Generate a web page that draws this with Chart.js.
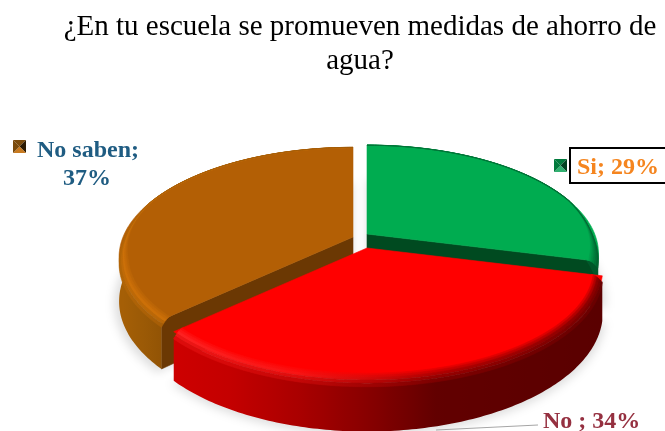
<!DOCTYPE html>
<html lang="es">
<head>
<meta charset="utf-8">
<title>Ahorro de agua</title>
<script src="https://cdn.jsdelivr.net/npm/chart.js@4"></script>
<style>
  html, body { margin: 0; padding: 0; background: #fff; overflow: hidden; }
  canvas { display: block; }
</style>
</head>
<body>
<canvas id="pieChart" width="665" height="431"></canvas>
<script>
// Chart data
const categories = ['Si', 'No ', 'No saben'];
const percentages = [29, 34, 37];
const titleLines = ['¿En tu escuela se promueven medidas de ahorro de', 'agua?'];

// Slice look: flat top, radial wall, then rim and side ramps along the horizontal
const topColors = ['#00ac50', '#ff0000', '#b35f05'];
const wallColors = ['#004a20', '#5a0000', '#6b3803'];
const rimRamps = [
    [[-1, '#009a48'], [0.6, '#009a48'], [1, '#007f3c']],
    [[-1, '#ff2626'], [-0.3, '#f81414'], [0.3, '#b00000'], [1, '#8a0000']],
    [[-1, '#cc7008'], [-0.6, '#cc7008'], [1, '#b35f05']]
];
const sideRamps = [
    [[-1, '#00582a'], [1, '#00582a']],
    [[-1, '#d40000'], [-0.6, '#c40000'], [-0.3, '#aa0000'], [0, '#880000'], [0.3, '#620000'], [1, '#5a0000']],
    [[-1, '#a55f06'], [-0.8, '#8e5205'], [1, '#8a5005']]
];

// Exploded slice centres, slice radius factors and the shared perspective of the disc
const centres = [[367, 234], [367, 248], [353, 237]];
const radii = [0.99, 1.008, 1];
const RADIUS = 230;
const FLATTEN = 106;
const PERSPECTIVE = 0.182;
const DEPTH = 43;
const STEPS = 140;

function project(centre, angle, r, z) {
    // Chart.js measures from 3 o'clock, so cos gives across and sin gives towards the viewer
    const u = r * Math.cos(angle);
    const v = r * Math.sin(angle);
    const s = 1 / (1 - PERSPECTIVE * v);
    return [centre[0] + RADIUS * u * s, centre[1] + FLATTEN * v * s + DEPTH * z * s];
}

function hexToRgb(hex) {
    return [1, 3, 5].map(i => parseInt(hex.slice(i, i + 2), 16));
}

function mix(a, b, t) {
    const ca = hexToRgb(a), cb = hexToRgb(b);
    const c = ca.map((v, i) => Math.round(v + (cb[i] - v) * t));
    return '#' + c.map(v => v.toString(16).padStart(2, '0')).join('');
}

function rampColor(ramp, u) {
    for (let i = 1; i < ramp.length; i++) {
        if (u <= ramp[i][0]) {
            const t = (u - ramp[i - 1][0]) / (ramp[i][0] - ramp[i - 1][0]);
            return mix(ramp[i - 1][1], ramp[i][1], Math.max(0, t));
        }
    }
    return ramp[ramp.length - 1][1];
}

// Horizontal gradient across the disc, sampled from a colour function of u in -1..1
function sweep(ctx, centre, colorAt) {
    const g = ctx.createLinearGradient(centre[0] - RADIUS, 0, centre[0] + RADIUS, 0);
    for (let i = 0; i <= 40; i++) {
        g.addColorStop(i / 40, colorAt(i / 20 - 1));
    }
    return g;
}

function fillPoly(ctx, pts, color, seam) {
    ctx.beginPath();
    pts.forEach((p, i) => (i ? ctx.lineTo(p[0], p[1]) : ctx.moveTo(p[0], p[1])));
    ctx.closePath();
    ctx.fillStyle = color;
    ctx.fill();
    if (seam) {
        ctx.strokeStyle = color;
        ctx.lineWidth = 0.6;
        ctx.stroke();
    }
}

function sector(centre, start, end, r, z) {
    const pts = [project(centre, start, 0, z)];
    for (let i = 0; i <= STEPS; i++) {
        pts.push(project(centre, start + (end - start) * i / STEPS, r, z));
    }
    return pts;
}

// Strip along the outer edge between two rings given as functions of the angle
function edgeStrip(centre, start, end, ringA, ringB) {
    const outer = [], inner = [];
    for (let i = 0; i <= STEPS; i++) {
        const a = start + (end - start) * i / STEPS;
        const pa = ringA(a), pb = ringB(a);
        outer.push(project(centre, a, pa[0], pa[1]));
        inner.unshift(project(centre, a, pb[0], pb[1]));
    }
    return outer.concat(inner);
}

const clamp = (v, lo, hi) => Math.min(hi, Math.max(lo, v));

function drawWall(ctx, centre, angle, R, color) {
    fillPoly(ctx, [project(centre, angle, 0, 0), project(centre, angle, R, 0),
        project(centre, angle, R, 1), project(centre, angle, 0, 1)], color, true);
}

function drawSlice(ctx, arc, index) {
    const centre = centres[index];
    const R = radii[index];
    const { startAngle: start, endAngle: end } = arc;
    const top = topColors[index], rim = rimRamps[index], side = sideRamps[index];

    // only the radial walls turned towards the viewer
    if (Math.cos(start) < -1e-6) drawWall(ctx, centre, start, R, wallColors[index]);
    if (Math.cos(end) > 1e-6) drawWall(ctx, centre, end, R, wallColors[index]);

    fillPoly(ctx, edgeStrip(centre, start, end, () => [R, 0.1], () => [R, 1]),
        sweep(ctx, centre, u => rampColor(side, u)), false);

    fillPoly(ctx, sector(centre, start, end, R, 0), top, true);

    // rounded bevel over into the side, wide at the front and nearly gone at the back
    const bevelR = a => clamp(0.03 + 0.07 * Math.sin(a), 0.006, 0.045);
    const bevelZ = a => 0.15 * clamp(1 + 3 * Math.sin(a), 0, 1);
    const rings = 6;
    for (let k = 0; k < rings; k++) {
        const t0 = k / rings, t1 = (k + 1) / rings;
        const ring = t => a => [R - bevelR(a) * (1 - t), bevelZ(a) * t * t];
        const color = sweep(ctx, centre, u => {
            const c = rampColor(rim, u);
            return t0 < 0.5 ? mix(top, c, t0 * 2) : mix(c, rampColor(side, u), (t0 - 0.5) * 2);
        });
        fillPoly(ctx, edgeStrip(centre, start, end, ring(t0), ring(t1)), color, true);
    }
}

function drawMarker(ctx, x, y, size, light, mid, dark) {
    const c = [x + size / 2, y + size / 2];
    const corners = [[x, y], [x + size, y], [x + size, y + size], [x, y + size]];
    [mid, dark, light, mid].forEach((color, i) => {
        fillPoly(ctx, [corners[i], corners[(i + 1) % 4], c], color, false);
    });
}

function drawLabels(ctx) {
    ctx.save();
    ctx.textBaseline = 'alphabetic';
    ctx.font = 'bold 24px "Liberation Serif", serif';

    // No saben, two lines beside the brown slice
    ctx.fillStyle = '#1f5c82';
    ctx.textAlign = 'center';
    ctx.fillText(categories[2] + ';', 88, 157);
    ctx.fillText(percentages[2] + '%', 87, 185);
    drawMarker(ctx, 13, 140, 13, '#c87a20', '#7a4a0c', '#2c1a02');

    // Si sits in an outlined box running off the right side
    ctx.fillStyle = '#fff';
    ctx.fillRect(570, 148, 110, 35);
    ctx.strokeStyle = '#000';
    ctx.lineWidth = 2;
    ctx.strokeRect(570, 148, 110, 35);
    ctx.fillStyle = '#f5851f';
    ctx.textAlign = 'left';
    ctx.fillText(categories[0] + '; ' + percentages[0] + '%', 577, 174);
    drawMarker(ctx, 554, 159, 13, '#30b070', '#007a3c', '#004020');

    // No, with a leader line back to the slice
    ctx.strokeStyle = '#a6a6a6';
    ctx.lineWidth = 1.2;
    ctx.beginPath();
    ctx.moveTo(436, 430);
    ctx.lineTo(538, 425);
    ctx.stroke();
    ctx.fillStyle = '#953040';
    ctx.fillText(categories[1] + '; ' + percentages[1] + '%', 543, 428);
    ctx.restore();
}

const pie3dPlugin = {
    id: 'pie3d',
    beforeDatasetsDraw(chart) {
        const { ctx } = chart;
        const arcs = chart.getDatasetMeta(0).data;

        ctx.save();
        // soft ground shadow under the whole pie
        ctx.filter = 'blur(5px)';
        arcs.forEach((arc, i) => {
            fillPoly(ctx, sector(centres[i], arc.startAngle, arc.endAngle, 1.02, 1.03), 'rgba(0,0,0,0.13)', false);
        });
        ctx.filter = 'none';

        // back slices first, the red one overlaps both
        [2, 0, 1].forEach(i => drawSlice(ctx, arcs[i], i));
        ctx.restore();

        drawLabels(ctx);
        return false;
    }
};

new Chart(document.getElementById('pieChart').getContext('2d'), {
    type: 'pie',
    data: {
        labels: categories,
        datasets: [{ data: percentages, backgroundColor: topColors, borderWidth: 0 }]
    },
    plugins: [pie3dPlugin],
    options: {
        responsive: false,
        animation: false,
        layout: { padding: { left: 55 } },
        plugins: {
            legend: { display: false },
            tooltip: { enabled: false },
            title: {
                display: true,
                text: titleLines,
                color: '#000',
                padding: { top: 11, bottom: 10 },
                font: { family: '"Liberation Serif", serif', size: 29, weight: 'normal', lineHeight: 1.15 }
            }
        }
    }
});
</script>
</body>
</html>
